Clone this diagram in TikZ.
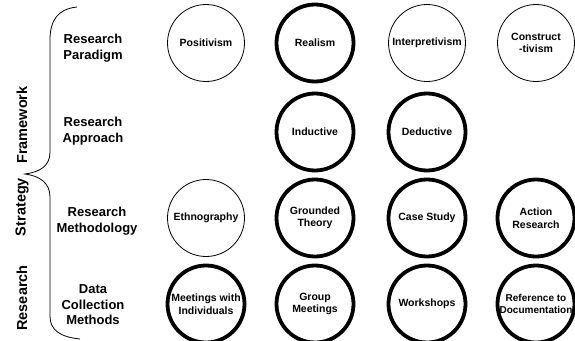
\documentclass[tikz,border=0pt]{standalone}
\usepackage{fontspec}
\setmainfont{Liberation Sans}
\usepackage{tikz}

\begin{document}
\begin{tikzpicture}[x=1pt,y=-1pt,
  idea/.style={circle,draw,line width=0.8pt,minimum size=77pt,inner sep=0pt,align=center,font=\fontsize{10.5}{12.5}\selectfont\bfseries},
  picked/.style={idea,line width=3.8pt},
  level/.style={align=center,font=\fontsize{13}{15.5}\selectfont\bfseries},
  side/.style={rotate=90,font=\fontsize{14.5}{17}\selectfont\bfseries}]
  \useasboundingbox (0,0) rectangle (575,340);
  % brace
  \draw[line width=0.8pt](77,7) .. controls (58,9) and (50,20) .. (50,40) -- (50,152)
    .. controls (50,166) and (40,172) .. (25,174) .. controls (40,176) and (50,183) .. (50,197)
    -- (50,316) .. controls (50,330) and (60,337) .. (80,339);
  \node[side] (framework) at (22,125) {Framework};
  \node[side] (strategy) at (22,207) {Strategy};
  \node[side] (research) at (22,298) {Research};
  % rows
  \node[level] (paradigm) at (93,48) {Research\\Paradigm};
  \node[level] (approach) at (93,131) {Research\\Approach};
  \node[level] (methodology) at (97,221) {Research\\Methodology};
  \node[level] (collection) at (93,305) {Data\\Collection\\Methods};
  \node[idea] (positivism) at (206,43) {Positivism};
  \node[picked] (realism) at (315,43) {Realism};
  \node[idea] (interpretivism) at (427,43) {Interpretivism};
  \node[idea] (constructivism) at (536,43) {Construct\\-tivism};
  \node[picked] (inductive) at (315,132) {Inductive};
  \node[picked] (deductive) at (427,132) {Deductive};
  \node[idea] (ethnography) at (206,218) {Ethnography};
  \node[picked] (grounded) at (315,218) {Grounded\\Theory};
  \node[picked] (casestudy) at (427,218) {Case Study};
  \node[picked] (action) at (536,218) {Action\\Research};
  \node[picked] (individuals) at (206,304) {Meetings with\\Individuals};
  \node[picked] (group) at (315,304) {Group\\Meetings};
  \node[picked] (workshops) at (427,304) {Workshops};
  \node[picked,font=\fontsize{10}{12}\selectfont\bfseries] (documentation) at (536,304) {Reference to\\Documentation};
\end{tikzpicture}
\end{document}
